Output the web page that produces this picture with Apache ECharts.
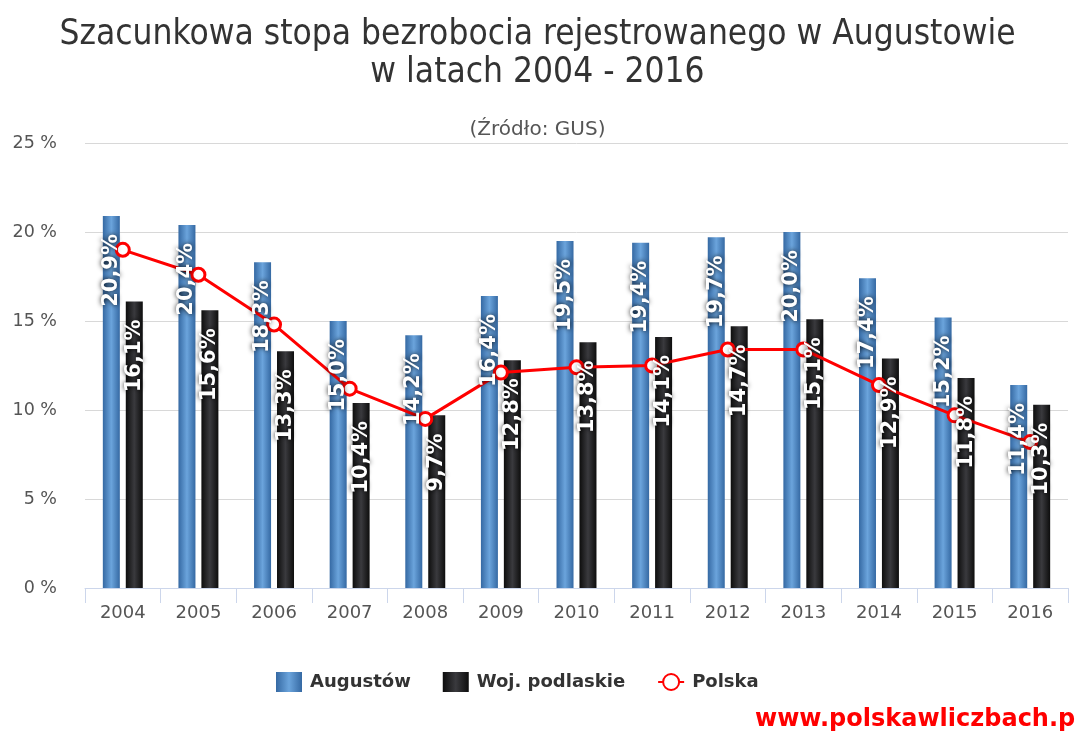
<!DOCTYPE html>
<html>
<head>
<meta charset="utf-8">
<script src="https://cdn.jsdelivr.net/npm/echarts@6/dist/echarts.min.js"></script>
<style>
  html, body { margin: 0; padding: 0; background: #fff; }
  #chart { width: 1075px; height: 731px; }
</style>
</head>
<body>
<div id="chart"></div>
<script>
// dane
var years = ['2004','2005','2006','2007','2008','2009','2010','2011','2012','2013','2014','2015','2016'];
var augustow = [20.9, 20.4, 18.3, 15.0, 14.2, 16.4, 19.5, 19.4, 19.7, 20.0, 17.4, 15.2, 11.4];
var podlaskie = [16.1, 15.6, 13.3, 10.4, 9.7, 12.8, 13.8, 14.1, 14.7, 15.1, 12.9, 11.8, 10.3];
var polska = [19.0, 17.6, 14.8, 11.2, 9.5, 12.1, 12.4, 12.5, 13.4, 13.4, 11.4, 9.7, 8.2];

var fontMain = 'DejaVu Sans';
var BAR_W = 17;

function barLabel() {
    return {
        show: true,
        position: 'insideTop',
        distance: 18,
        rotate: 90,
        align: 'right',
        verticalAlign: 'middle',
        color: '#fff',
        fontFamily: fontMain,
        fontWeight: 'bold',
        fontSize: 21,
        textShadowColor: 'rgba(0,0,0,0.9)',
        textShadowBlur: 5,
        formatter: function (p) {
            return p.value.toFixed(1).replace('.', ',') + '%';
        }
    };
}

var blueGrad = new echarts.graphic.LinearGradient(0, 0, 1, 0, [
    { offset: 0, color: '#3569a3' },
    { offset: 0.5, color: '#6ba4dc' },
    { offset: 1, color: '#3569a3' }
]);
var blackGrad = new echarts.graphic.LinearGradient(0, 0, 1, 0, [
    { offset: 0, color: '#0d0d0d' },
    { offset: 0.5, color: '#3a3a3e' },
    { offset: 1, color: '#0d0d0d' }
]);

var option = {
    backgroundColor: '#fff',
    title: [{
        text: 'Szacunkowa stopa bezrobocia rejestrowanego w Augustowie\nw latach 2004 - 2016',
        left: 'center',
        top: 11,
        textStyle: {
            fontFamily: 'DejaVu Sans Condensed, DejaVu Sans',
            fontWeight: 'normal',
            fontSize: 35,
            lineHeight: 38,
            color: '#333'
        }
    }, {
        text: '(Źródło: GUS)',
        left: 'center',
        top: 115,
        textStyle: {
            fontFamily: fontMain,
            fontWeight: 'normal',
            fontSize: 20,
            color: '#555'
        }
    }],
    legend: {
        bottom: 34,
        left: 271,
        itemWidth: 26,
        itemHeight: 20,
        itemGap: 32,
        textStyle: {
            fontFamily: fontMain,
            fontWeight: 'bold',
            fontSize: 18,
            color: '#333',
            padding: [0, 0, 0, 3]
        },
        data: [
            { name: 'Augustów', icon: 'rect' },
            { name: 'Woj. podlaskie', icon: 'rect' },
            { name: 'Polska' }
        ]
    },
    grid: {
        left: 85,
        right: 7,
        top: 143,
        bottom: 143
    },
    xAxis: [{
        type: 'category',
        data: years,
        axisLine: { lineStyle: { color: '#ccd6eb', width: 1 } },
        axisTick: { show: true, length: 15, lineStyle: { color: '#ccd6eb' } },
        axisLabel: {
            fontFamily: fontMain,
            fontSize: 18,
            color: '#555',
            margin: 16
        }
    }, {
        // niewidoczna os tylko dla etykiet nad linia
        type: 'category',
        data: years,
        show: false
    }],
    yAxis: {
        type: 'value',
        min: 0,
        max: 25,
        interval: 5,
        axisLine: { show: false },
        axisTick: { show: false },
        splitLine: { lineStyle: { color: '#d8d8d8', width: 1 } },
        axisLabel: {
            fontFamily: fontMain,
            fontSize: 17.5,
            color: '#555',
            margin: 28,
            formatter: '{value} %'
        }
    },
    series: [{
        name: 'Augustów',
        type: 'bar',
        barWidth: BAR_W,
        barGap: '35%',
        data: augustow,
        itemStyle: { color: blueGrad },
        z: 2
    }, {
        name: 'Woj. podlaskie',
        type: 'bar',
        barWidth: BAR_W,
        data: podlaskie,
        itemStyle: { color: blackGrad },
        z: 2
    }, {
        name: 'Polska',
        type: 'line',
        data: polska,
        symbol: 'circle',
        symbolSize: 13,
        lineStyle: { color: '#ff0000', width: 3 },
        itemStyle: { color: '#fff', borderColor: '#ff0000', borderWidth: 3 },
        z: 3
    }, {
        name: 'lbl-a',
        type: 'bar',
        xAxisIndex: 1,
        barWidth: BAR_W,
        barGap: '35%',
        data: augustow,
        itemStyle: { color: 'rgba(0,0,0,0)' },
        label: barLabel(),
        silent: true,
        z: 5
    }, {
        name: 'lbl-b',
        type: 'bar',
        xAxisIndex: 1,
        barWidth: BAR_W,
        data: podlaskie,
        itemStyle: { color: 'rgba(0,0,0,0)' },
        label: barLabel(),
        silent: true,
        z: 5
    }],
    graphic: [{
        type: 'text',
        left: 755,
        top: 708,
        style: {
            text: 'www.polskawliczbach.pl',
            fill: '#ff0000',
            font: 'bold 24px DejaVu Sans'
        }
    }]
};

var myChart = echarts.init(document.getElementById('chart'));
myChart.setOption(option);
</script>
</body>
</html>
